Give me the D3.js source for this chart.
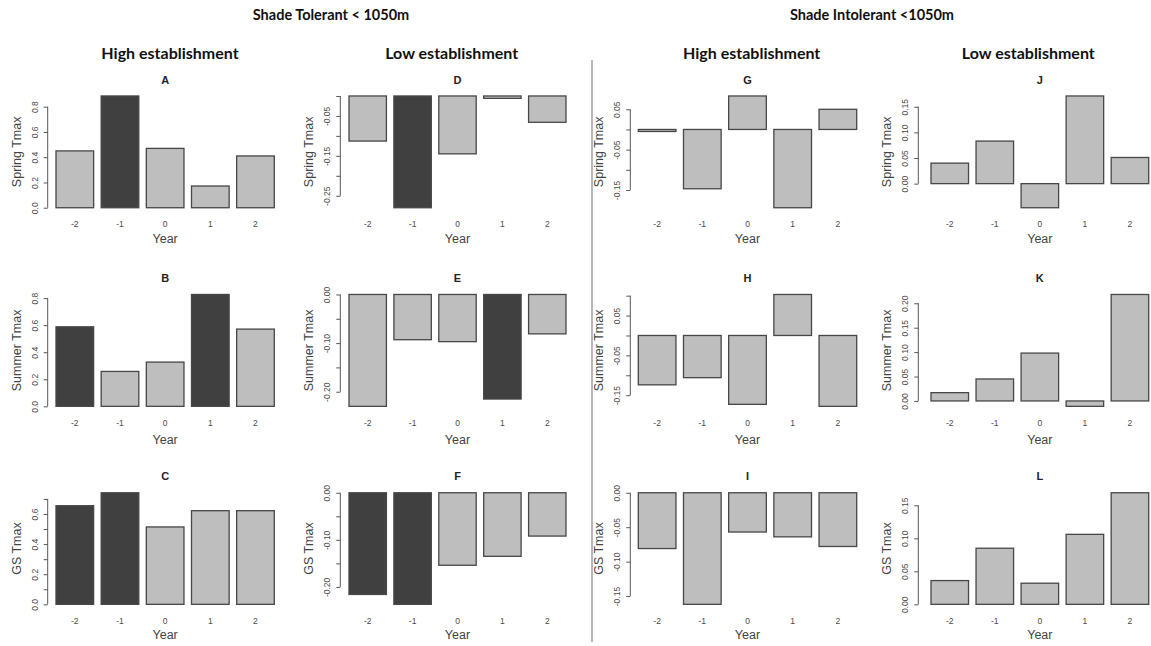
<!DOCTYPE html>
<html>
<head>
<meta charset="utf-8">
<script src="https://cdn.jsdelivr.net/npm/d3@7"></script>
<style>
  body { margin: 0; background: #fff; }
  text { font-family: "Liberation Sans", Arial, sans-serif; }
  .hdr { font-family: Lato, "Open Sans", sans-serif; font-weight: bold; fill: #111; }
</style>
</head>
<body>
<script>
// ---- data ----
var years = ["-2", "-1", "0", "1", "2"];
var rowVars = ["Spring Tmax", "Summer Tmax", "GS Tmax"];
var groupTitles = ["Shade Tolerant < 1050m", "Shade Intolerant <1050m"];
var colTitles = ["High establishment", "Low establishment", "High establishment", "Low establishment"];

// shade tolerant, high establishment
var valuesA = [0.45, 0.885, 0.47, 0.172, 0.41];
var valuesB = [0.588, 0.258, 0.327, 0.827, 0.571];
var valuesC = [0.655, 0.741, 0.514, 0.622, 0.622];
// shade tolerant, low establishment
var valuesD = [-0.113, -0.28, -0.145, -0.006, -0.066];
var valuesE = [-0.23, -0.093, -0.097, -0.215, -0.081];
var valuesF = [-0.216, -0.237, -0.154, -0.135, -0.092];
// shade intolerant, high establishment
var valuesG = [-0.005, -0.147, 0.083, -0.194, 0.05];
var valuesH = [-0.124, -0.106, -0.173, 0.103, -0.178];
var valuesI = [-0.081, -0.162, -0.057, -0.064, -0.078];
// shade intolerant, low establishment
var valuesJ = [0.04, 0.083, -0.047, 0.171, 0.051];
var valuesK = [0.017, 0.045, 0.098, -0.011, 0.218];
var valuesL = [0.036, 0.085, 0.032, 0.106, 0.169];

// years drawn dark (significant)
var darkA = ["-1"], darkB = ["-2", "1"], darkC = ["-2", "-1"];
var darkD = ["-1"], darkE = ["1"], darkF = ["-2", "-1"];

// y ticks and their labels ("" = tick without label, as R drops overlapping ones)
var ticks08 = [0, 0.2, 0.4, 0.6, 0.8], labels08 = ["0.0", "0.2", "0.4", "0.6", "0.8"];
var ticks07 = [0, 0.1, 0.2, 0.3, 0.4, 0.5, 0.6, 0.7], labels07 = ["0.0", "", "0.2", "", "0.4", "", "0.6", ""];
var ticksD = [-0.25, -0.2, -0.15, -0.1, -0.05, 0], labelsD = ["-0.25", "", "-0.15", "", "-0.05", ""];
var ticksEF = [-0.2, -0.15, -0.1, -0.05, 0], labelsEF = ["-0.20", "", "-0.10", "", "0.00"];
var ticksG = [-0.15, -0.1, -0.05, 0, 0.05], labelsG = ["-0.15", "", "-0.05", "", "0.05"];
var ticksH = [-0.15, -0.1, -0.05, 0, 0.05, 0.1], labelsH = ["-0.15", "", "-0.05", "", "0.05", ""];
var ticksI = [-0.15, -0.1, -0.05, 0], labelsI = ["-0.15", "-0.10", "-0.05", "0.00"];
var ticksJL = [0, 0.05, 0.1, 0.15], labelsJL = ["0.00", "0.05", "0.10", "0.15"];
var ticksK = [0, 0.05, 0.1, 0.15, 0.2], labelsK = ["0.00", "0.05", "0.10", "0.15", "0.20"];

var panels = [
  {id: "A", col: 0, row: 0, values: valuesA, dark: darkA, ticks: ticks08, labels: labels08},
  {id: "B", col: 0, row: 1, values: valuesB, dark: darkB, ticks: ticks08, labels: labels08},
  {id: "C", col: 0, row: 2, values: valuesC, dark: darkC, ticks: ticks07, labels: labels07},
  {id: "D", col: 1, row: 0, values: valuesD, dark: darkD, ticks: ticksD, labels: labelsD},
  {id: "E", col: 1, row: 1, values: valuesE, dark: darkE, ticks: ticksEF, labels: labelsEF},
  {id: "F", col: 1, row: 2, values: valuesF, dark: darkF, ticks: ticksEF, labels: labelsEF},
  {id: "G", col: 2, row: 0, values: valuesG, dark: [], ticks: ticksG, labels: labelsG},
  {id: "H", col: 2, row: 1, values: valuesH, dark: [], ticks: ticksH, labels: labelsH},
  {id: "I", col: 2, row: 2, values: valuesI, dark: [], ticks: ticksI, labels: labelsI},
  {id: "J", col: 3, row: 0, values: valuesJ, dark: [], ticks: ticksJL, labels: labelsJL},
  {id: "K", col: 3, row: 1, values: valuesK, dark: [], ticks: ticksK, labels: labelsK},
  {id: "L", col: 3, row: 2, values: valuesL, dark: [], ticks: ticksJL, labels: labelsJL}
];

// ---- layout ----
var W = 1151, H = 646;
var axisX = [47.7, 340.3, 630.3, 918.3];
var barLeft = [56, 349, 638.3, 931];
var barRight = [274.3, 566, 856.7, 1148.7];
var rowTop = [91.5, 290, 488.3];
var rowBottom = [212.2, 410.8, 608.8];
var yearGap = [26.5, 29, 26.5];
var colCenter = [170, 451.7, 751.7, 1028.3];
var lightFill = "#bebebe", darkFill = "#404040", barStroke = "#474747";

var svg = d3.select("body").append("svg")
  .attr("width", W).attr("height", H);

svg.append("rect").attr("width", W).attr("height", H).attr("fill", "#fff");

// group headers
svg.selectAll("text.grp").data(groupTitles).enter().append("text")
  .attr("class", "hdr grp")
  .attr("x", function(d, i) { return i === 0 ? 331 : 872; })
  .attr("y", 14)
  .attr("text-anchor", "middle").attr("dominant-baseline", "central")
  .style("font-size", "14.5px")
  .text(function(d) { return d; });

svg.selectAll("text.colt").data(colTitles).enter().append("text")
  .attr("class", "hdr colt")
  .attr("x", function(d, i) { return colCenter[i]; })
  .attr("y", 52)
  .attr("text-anchor", "middle").attr("dominant-baseline", "central")
  .style("font-size", "16px")
  .text(function(d) { return d; });

// separator between the two groups
svg.append("line")
  .attr("x1", 592).attr("x2", 592).attr("y1", 60).attr("y2", 642)
  .attr("stroke", "#a0a0a0").attr("stroke-width", 1.5);

panels.forEach(function(p) {
  var c = p.col, r = p.row;
  var lo = Math.min(0, d3.min(p.values)), hi = Math.max(0, d3.max(p.values));
  var pad = 0.04 * (hi - lo);

  var y = d3.scaleLinear().domain([lo - pad, hi + pad]).range([rowBottom[r], rowTop[r]]);
  var x = d3.scaleBand().domain(years).range([barLeft[c], barRight[c]])
    .paddingInner(1 / 6).paddingOuter(0);

  var g = svg.append("g").attr("class", "panel-" + p.id);
  var rows = years.map(function(yr, i) { return {year: yr, value: p.values[i]}; });

  g.selectAll("rect").data(rows).enter().append("rect")
    .attr("x", function(d) { return x(d.year); })
    .attr("width", x.bandwidth())
    .attr("y", function(d) { return y(Math.max(0, d.value)); })
    .attr("height", function(d) { return Math.max(1, Math.abs(y(d.value) - y(0))); })
    .attr("fill", function(d) { return p.dark.indexOf(d.year) >= 0 ? darkFill : lightFill; })
    .attr("stroke", barStroke).attr("stroke-width", 1.3);

  // y axis, R style: line only between first and last tick, rotated labels
  var ax = g.append("g").attr("transform", "translate(" + axisX[c] + ",0)")
    .call(d3.axisLeft(y).tickValues(p.ticks).tickSize(4)
      .tickFormat(function(d, i) { return p.labels[i]; }));
  ax.select(".domain").remove();
  ax.append("line")
    .attr("y1", y(d3.min(p.ticks))).attr("y2", y(d3.max(p.ticks)))
    .attr("stroke", "#555");
  ax.selectAll(".tick line").attr("stroke", "#555");
  ax.selectAll(".tick text")
    .attr("x", 0).attr("dy", null)
    .attr("transform", "translate(-13,0) rotate(-90)")
    .attr("text-anchor", "middle").attr("dominant-baseline", "central")
    .attr("fill", "#4a4a4a").style("font-size", "8.5px");

  // x category labels
  g.selectAll("text.xl").data(years).enter().append("text")
    .attr("class", "xl")
    .attr("x", function(d) { return x(d) + x.bandwidth() / 2; })
    .attr("y", rowBottom[r] + 12)
    .attr("text-anchor", "middle").attr("dominant-baseline", "central")
    .attr("fill", "#4a4a4a").style("font-size", "8.5px")
    .text(function(d) { return d; });

  // panel letter
  g.append("text")
    .attr("x", (barLeft[c] + barRight[c]) / 2)
    .attr("y", rowTop[r] - 12)
    .attr("text-anchor", "middle").attr("dominant-baseline", "central")
    .attr("fill", "#222").style("font-size", "11px").style("font-weight", "bold")
    .text(p.id);

  // axis titles
  g.append("text")
    .attr("x", (barLeft[c] + barRight[c]) / 2)
    .attr("y", rowBottom[r] + yearGap[r])
    .attr("text-anchor", "middle").attr("dominant-baseline", "central")
    .attr("fill", "#444").style("font-size", "12.5px")
    .text("Year");

  g.append("text")
    .attr("transform", "translate(" + (axisX[c] - 31) + "," + ((rowTop[r] + rowBottom[r]) / 2) + ") rotate(-90)")
    .attr("text-anchor", "middle").attr("dominant-baseline", "central")
    .attr("fill", "#444").style("font-size", "12.5px")
    .text(rowVars[r]);
});
</script>
</body>
</html>
